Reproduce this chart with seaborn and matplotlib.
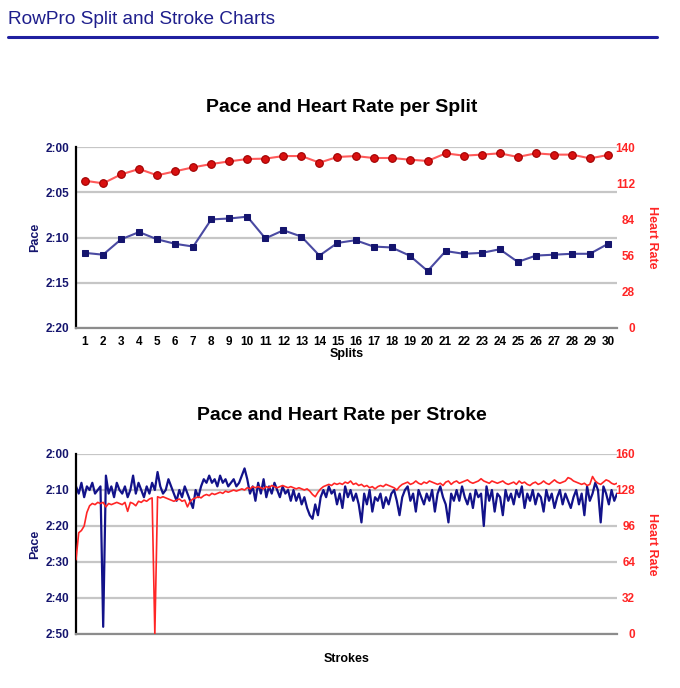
import numpy as np
import matplotlib
matplotlib.use("Agg")
import matplotlib.pyplot as plt
from matplotlib.lines import Line2D
from matplotlib.ticker import FuncFormatter
import seaborn as sns

# ---- datos por split (pace en segundos por 500 m) ----
splits = list(range(1, 31))
split_pace = [131.7, 131.9, 130.2, 129.4, 130.2, 130.7, 131.0, 128.0, 127.9, 127.7,
              130.1, 129.2, 129.9, 132.0, 130.6, 130.3, 131.0, 131.1, 132.0, 133.7,
              131.5, 131.8, 131.7, 131.3, 132.7, 132.0, 131.9, 131.8, 131.8, 130.7]
split_hr = [113.9, 111.9, 118.8, 123.0, 118.1, 121.2, 124.3, 126.8, 128.9, 130.7,
            131.0, 133.0, 133.0, 127.9, 132.3, 133.0, 131.5, 131.5, 130.2, 129.2,
            135.1, 133.3, 134.1, 135.1, 132.3, 135.1, 134.1, 134.1, 131.2, 133.8]

# ---- datos por stroke ----
stroke_pace = [
    129, 131, 128, 132, 129, 130, 128, 131, 130, 129, 168, 126, 131, 129, 132, 128, 130, 131, 129, 132,
    130, 126, 131, 128, 130, 132, 129, 131, 128, 130, 125, 129, 131, 130, 127, 129, 131, 133, 130, 132,
    129, 131, 133, 135, 130, 132, 129, 127, 128, 126, 128, 127, 129, 126, 128, 127, 129, 128, 127, 129,
    128, 126, 124, 127, 131, 129, 133, 128, 131, 127, 132, 129, 131, 128, 130, 132, 129, 131, 130, 133,
    130, 133, 131, 134, 132, 135, 137, 138, 134, 137, 132, 130, 132, 129, 131, 130, 134, 131, 135, 129,
    132, 130, 133, 131, 134, 139, 131, 134, 130, 136, 132, 133, 131, 135, 132, 134, 131, 130, 133, 137,
    132, 130, 129, 133, 131, 136, 130, 132, 134, 131, 133, 130, 136, 131, 129, 132, 134, 139, 131, 133,
    130, 133, 129, 132, 134, 131, 135, 130, 132, 131, 140, 129, 133, 130, 136, 131, 132, 137, 130, 133,
    131, 134, 130, 132, 129, 135, 131, 133, 130, 134, 131, 132, 136, 130, 133, 131, 135, 132, 130, 134,
    131, 133, 135, 132, 130, 134, 131, 137, 129, 133, 131, 128, 130, 139, 129, 131, 134, 130, 133, 131,
]
stroke_hr = [
    66, 90, 92, 96, 108, 114, 116, 115, 117, 116, 117, 113, 116, 115, 116, 117, 116, 115, 117, 109,
    117, 116, 114, 118, 117, 119, 118, 120, 121, 0, 122, 121, 122, 121, 120, 119, 118, 119, 120, 118,
    119, 113, 118, 120, 121, 122, 121, 123, 124, 123, 125, 124, 125, 126, 125, 127, 126, 127, 128, 127,
    128, 129, 128, 130, 129, 131, 130, 131, 130, 129, 131, 130, 132, 131, 130, 131, 132, 131, 130, 131,
    130, 129, 130, 129, 128, 129, 127, 124, 122, 126, 129, 131, 132, 133, 132, 134, 133, 134, 133, 135,
    134, 136, 133, 134, 132, 133, 131, 132, 130, 131, 129, 131, 132, 131, 133, 132, 131, 130, 128, 131,
    133, 134, 135, 133, 134, 136, 134, 133, 135, 134, 136, 135, 134, 133, 134, 132, 135, 136, 133, 135,
    136, 134, 135, 136, 137, 135, 134, 135, 136, 138, 136, 135, 134, 136, 135, 134, 135, 136, 134, 133,
    134, 135, 133, 136, 134, 135, 133, 132, 134, 135, 133, 134, 136, 134, 133, 135, 137, 135, 134, 135,
    136, 139, 138, 136, 135, 134, 133, 134, 132, 133, 140, 136, 134, 133, 135, 137, 136, 134, 133, 134,
]
strokes = list(range(1, len(stroke_pace) + 1))

pace_ticks_split = [120, 125, 130, 135, 140]
hr_ticks_split = [0, 28, 56, 84, 112, 140]
pace_ticks_stroke = [120, 130, 140, 150, 160, 170]
hr_ticks_stroke = [0, 32, 64, 96, 128, 160]

NAVY = "#15156e"
PACE_LINE = "#4a4aa2"
PACE_DARK = "#12128a"
RED = "#ff2525"
RED_LINE = "#ff5a5a"
RED_MARK = "#d81010"

W, H = 680, 688


def fmt_pace(s, pos=None):
    s = int(round(s))
    return f"{s // 60}:{s % 60:02d}"


def preparar_ejes(ax, ax2, pace_ticks, hr_ticks):
    ax.set_ylim(pace_ticks[-1], pace_ticks[0])
    ax.set_yticks(pace_ticks)
    ax.yaxis.set_major_formatter(FuncFormatter(fmt_pace))
    ax2.set_ylim(hr_ticks[0], hr_ticks[-1])
    ax2.set_yticks(hr_ticks)

    ax.grid(axis="y", color="#c6c6c6", linewidth=1.6)
    ax.grid(axis="x", visible=False)
    ax.set_axisbelow(True)
    for s in ["top", "right"]:
        ax.spines[s].set_visible(False)
    ax.spines["left"].set_color("black")
    ax.spines["left"].set_linewidth(1.6)
    ax.spines["bottom"].set_color("#8c8c8c")
    ax.spines["bottom"].set_linewidth(1.6)
    for s in ax2.spines.values():
        s.set_visible(False)

    ax.tick_params(axis="y", length=0, pad=5, labelsize=8.5, labelcolor=NAVY)
    ax.tick_params(axis="x", length=0, pad=6, labelsize=8.5, labelcolor="black")
    ax2.tick_params(axis="y", length=0, pad=13, labelsize=8.5, labelcolor=RED)
    for t in ax2.get_yticklabels():
        t.set_ha("right")

    ax.set_ylabel("Pace", color=NAVY, fontsize=9, fontweight="bold")
    ax.yaxis.set_label_coords((41 - 76) / 541, 0.5)
    ax2.set_ylabel("Heart Rate", color=RED, fontsize=9, fontweight="bold",
                   rotation=270, va="bottom")
    ax2.yaxis.set_label_coords((646 - 76) / 541, 0.5)


sns.set_style("white")
plt.rcParams["font.family"] = ["Liberation Sans", "DejaVu Sans"]
plt.rcParams["font.weight"] = "bold"

fig = plt.figure(figsize=(W / 100, H / 100), dpi=100)

# cabecera
fig.text(8.5 / W, 1 - 24 / H, "RowPro Split and Stroke Charts", fontsize=13.7,
         fontweight="normal", color="#1e1e8c", va="baseline", ha="left")
fig.add_artist(Line2D([8 / W, 657 / W], [1 - 37 / H, 1 - 37 / H],
                      color="#2020a0", linewidth=2.2))

# ---- grafico por split ----
ax = fig.add_axes([76 / W, 1 - 328 / H, 541 / W, 181 / H])
ax2 = ax.twinx()
sns.lineplot(x=splits, y=split_pace, ax=ax, sort=False, errorbar=None,
             color=PACE_LINE, linewidth=1.5, marker="s", markersize=5,
             markerfacecolor=NAVY, markeredgecolor=NAVY)
sns.lineplot(x=splits, y=split_hr, ax=ax2, sort=False, errorbar=None,
             color=RED_LINE, linewidth=1.5, marker="o", markersize=5.5,
             markerfacecolor=RED_MARK, markeredgecolor="#a00000", markeredgewidth=0.8)
ax.set_xlim(0.5, 30.5)
ax.set_xticks(splits)
preparar_ejes(ax, ax2, pace_ticks_split, hr_ticks_split)
ax.set_xlabel("Splits", fontsize=9, fontweight="bold", color="black")
ax.xaxis.set_label_coords(0.5, (328 - 347.5) / 181)
fig.text(341.5 / W, 1 - 112 / H, "Pace and Heart Rate per Split", fontsize=14,
         ha="center", va="baseline", color="black")

# ---- grafico por stroke ----
bx = fig.add_axes([76 / W, 1 - 634 / H, 541 / W, 180 / H])
bx2 = bx.twinx()
sns.lineplot(x=strokes, y=stroke_pace, ax=bx, sort=False, errorbar=None,
             color=PACE_DARK, linewidth=1.6)
sns.lineplot(x=strokes, y=stroke_hr, ax=bx2, sort=False, errorbar=None,
             color=RED, linewidth=1.2)
bx.set_xlim(strokes[0], strokes[-1])
bx.set_xticks([])
preparar_ejes(bx, bx2, pace_ticks_stroke, hr_ticks_stroke)
bx.set_xlabel("Strokes", fontsize=9, fontweight="bold", color="black")
bx.xaxis.set_label_coords(0.5, (634 - 653) / 180)
fig.text(341.5 / W, 1 - 420 / H, "Pace and Heart Rate per Stroke", fontsize=14,
         ha="center", va="baseline", color="black")

fig.savefig("out.png", dpi=100)
